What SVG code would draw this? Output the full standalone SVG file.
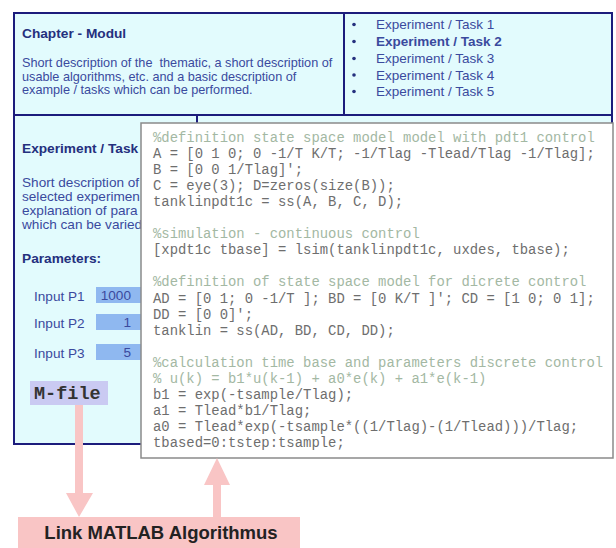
<svg xmlns="http://www.w3.org/2000/svg" width="616" height="548" viewBox="0 0 616 548">
<defs>
<style>
.panel{fill:#e2fbfd;stroke:#1c1c7c;stroke-width:2}
.h{font-family:"Liberation Sans",Arial,sans-serif;font-weight:bold;font-size:13.7px;fill:#25307e}
.t{font-family:"Liberation Sans",Arial,sans-serif;font-size:12.7px;fill:#3a4a9e}
.t2{font-family:"Liberation Sans",Arial,sans-serif;font-size:13.6px;fill:#3a4a9e}
.bl{font-family:"Liberation Sans",Arial,sans-serif;font-size:13.5px;fill:#3a4a9e}
.code{font-family:"Liberation Mono","Courier New",monospace;font-size:13.9px;fill:#6e6e6e}
.cm{fill:#a3b8a3}
.val{fill:#8fb8f0}
.pink{fill:#f9c5c5}
</style>
</defs>
<rect width="616" height="548" fill="#ffffff"/>
<g id="chapter-panel">
<rect class="panel" x="14" y="13" width="330" height="102"/>
<text class="h" x="22" y="38">Chapter - Modul</text>
<text class="t" x="22" y="67" xml:space="preserve">Short description of the  thematic, a short description of</text>
<text class="t" x="22" y="80.5">usable algorithms, etc. and a basic description of</text>
<text class="t" x="22" y="94">example / tasks which can be performed.</text>
</g>
<g id="task-list">
<rect class="panel" x="344" y="13" width="268" height="102"/>
<circle cx="354" cy="24.5" r="1.8" fill="#25307e"/>
<circle cx="354" cy="41.5" r="1.8" fill="#25307e"/>
<circle cx="354" cy="58.5" r="1.8" fill="#25307e"/>
<circle cx="354" cy="75" r="1.8" fill="#25307e"/>
<circle cx="354" cy="91.5" r="1.8" fill="#25307e"/>
<text class="bl" x="376" y="29">Experiment / Task 1</text>
<text class="bl" x="376" y="46" font-weight="bold" fill="#25307e">Experiment / Task 2</text>
<text class="bl" x="376" y="63">Experiment / Task 3</text>
<text class="bl" x="376" y="79.5">Experiment / Task 4</text>
<text class="bl" x="376" y="96">Experiment / Task 5</text>
</g>
<g id="experiment-panel">
<rect class="panel" x="14" y="115" width="598" height="329"/>
<line x1="197" y1="115" x2="197" y2="124" stroke="#1c1c7c" stroke-width="2"/>
<text class="h" x="22" y="153">Experiment / Task</text>
<text class="t2" x="22" y="187">Short description of</text>
<text class="t2" x="22" y="201">selected experimen</text>
<text class="t2" x="22" y="215">explanation of para</text>
<text class="t2" x="22" y="229">which can be varied</text>
<text class="h" x="22" y="263">Parameters:</text>
<text class="t2" x="34" y="301">Input P1</text>
<text class="t2" x="34" y="328">Input P2</text>
<text class="t2" x="34" y="358">Input P3</text>
<rect class="val" x="96" y="287" width="45" height="16"/>
<rect class="val" x="96" y="314" width="45" height="16"/>
<rect class="val" x="96" y="344" width="45" height="16"/>
<text class="t2" x="131" y="300" text-anchor="end" fill="#25307e">1000</text>
<text class="t2" x="131" y="327" text-anchor="end" fill="#25307e">1</text>
<text class="t2" x="131" y="357" text-anchor="end" fill="#25307e">5</text>
</g>
<g id="m-file">
<rect x="30" y="381" width="78" height="24" fill="#cacaf2"/>
<text x="34" y="399" font-family="'Liberation Mono','Courier New',monospace" font-weight="bold" font-size="18.5" fill="#333">M-file</text>
</g>
<g id="code-box">
<rect x="141" y="123" width="472" height="335" fill="#ffffff" stroke="#8a8a8a" stroke-width="1.5"/>
<text class="code" x="153" y="141.5"><tspan class="cm">%definition state space model model with pdt1 control</tspan></text>
<text class="code" x="153" y="157.6">A = [0 1 0; 0 -1/T K/T; -1/Tlag -Tlead/Tlag -1/Tlag];</text>
<text class="code" x="153" y="173.7">B = [0 0 1/Tlag]';</text>
<text class="code" x="153" y="189.8">C = eye(3); D=zeros(size(B));</text>
<text class="code" x="153" y="205.9">tanklinpdt1c = ss(A, B, C, D);</text>
<text class="code" x="153" y="238.1"><tspan class="cm">%simulation - continuous control</tspan></text>
<text class="code" x="153" y="254.2">[xpdt1c tbase] = lsim(tanklinpdt1c, uxdes, tbase);</text>
<text class="code" x="153" y="286.4"><tspan class="cm">%definition of state space model for dicrete control</tspan></text>
<text class="code" x="153" y="302.5">AD = [0 1; 0 -1/T ]; BD = [0 K/T ]'; CD = [1 0; 0 1];</text>
<text class="code" x="153" y="318.6">DD = [0 0]';</text>
<text class="code" x="153" y="334.7">tanklin = ss(AD, BD, CD, DD);</text>
<text class="code" x="153" y="366.9"><tspan class="cm">%calculation time base and parameters discrete control</tspan></text>
<text class="code" x="153" y="383"><tspan class="cm">% u(k) = b1*u(k-1) + a0*e(k) + a1*e(k-1)</tspan></text>
<text class="code" x="153" y="399.1">b1 = exp(-tsample/Tlag);</text>
<text class="code" x="153" y="415.2">a1 = Tlead*b1/Tlag;</text>
<text class="code" x="153" y="431.3">a0 = Tlead*exp(-tsample*((1/Tlag)-(1/Tlead)))/Tlag;</text>
<text class="code" x="153" y="447.4">tbased=0:tstep:tsample;</text>
</g>
<g id="connectors">
<polygon class="pink" points="75,405 83,405 83,493 93,493 79,517 66,493 75,493"/>
<polygon class="pink" points="217,458 230,485 221,485 221,517 213,517 213,485 204,485"/>
</g>
<g id="link-label">
<rect class="pink" x="18" y="517" width="282" height="31"/>
<text x="161" y="539" text-anchor="middle" font-family="'Liberation Sans',Arial,sans-serif" font-weight="bold" font-size="18.5" fill="#222">Link MATLAB Algorithmus</text>
</g>
</svg>
